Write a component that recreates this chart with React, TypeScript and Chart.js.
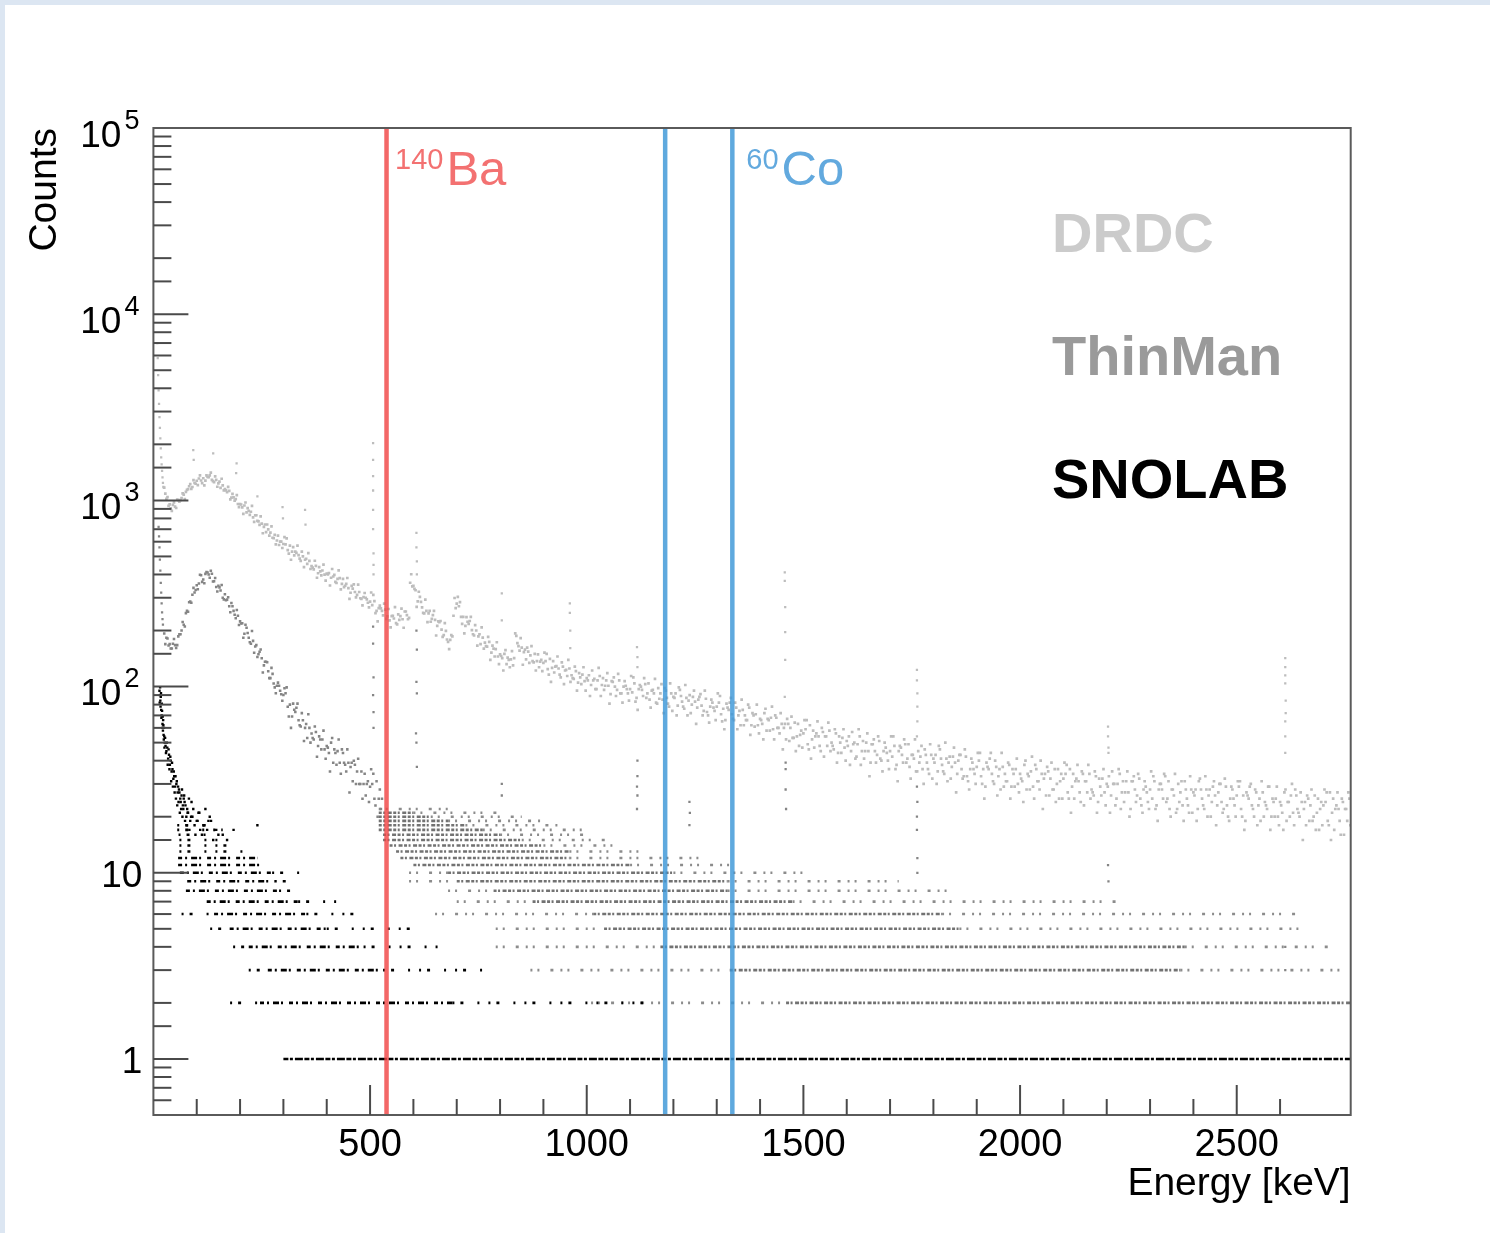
import { useEffect, useRef } from "react";
import { Chart, registerables } from "chart.js";

Chart.register(...registerables);

// ---------------- data ----------------
const energyRangeKeV = [0, 2763];
const countRange = [0.5, 100000];

const xLabelValues = [500, 1000, 1500, 2000, 2500];
const yLabelValues = [1, 10, 100, 1000, 10000, 100000];
const yLabelBase = ["1", "10", "10", "10", "10", "10"];
const yLabelExponent = ["", "", "2", "3", "4", "5"];

const seriesNames = ["DRDC", "ThinMan", "SNOLAB"];

const isotopeLineEnergies = [538, 1181, 1336];
const isotopeMassNumbers = ["140", "60"];
const isotopeSymbols = ["Ba", "Co"];
const isotopeLabelLine = [0, 2];

const binWidthKeV = 5;

// DRDC spectrum, bins every 5 keV starting at 25 keV
const drdcFirstBinKeV = 25;
const drdcCounts = [
  1170, 1020, 935, 905, 945, 925, 1010, 985, 1030, 1075, 1110, 1150, 1225, 1180, 1240, 1275,
  1311, 1279, 1315, 1278, 1336, 1362, 1290, 1254, 1290, 1235, 1166, 1204, 1150, 1107, 1125, 1035, 1038, 1016, 956, 954,
  917, 939, 862, 878, 869, 810, 832, 776, 739, 750, 720, 675, 698, 671, 630, 653, 609, 576, 601, 583,
  581, 541, 571, 530, 507, 523, 508, 473, 500, 480, 456, 473, 444, 426, 445, 406, 416, 420, 399, 404,
  407, 384, 390, 365, 379, 382, 356, 342, 356, 338, 319, 336, 322, 311, 322, 296, 302, 300, 282, 286,
  274, 288, 255, 264, 263, 241, 259, 238, 227, 239, 232, 219, 244, 239, 230, 253, 242, 234, 401, 347,
  329, 287, 303, 266, 247, 255, 247, 223, 242, 228, 212, 222, 202, 189, 199, 174, 178, 186, 299, 279,
  270, 237, 237, 212, 223, 225, 201, 188, 200, 186, 169, 183, 172, 164, 174, 152, 160, 159, 145, 149,
  142, 150, 132, 139, 140, 130, 193, 171, 156, 162, 153, 140, 154, 147, 137, 150, 137, 127, 139, 134,
  137, 124, 141, 126, 119, 129, 125, 112, 128, 122, 114, 125, 115, 110, 121, 105, 112, 116, 107, 111,
  115, 102, 108, 97, 108, 114, 102, 96, 108, 101, 91, 106, 100, 96, 108, 92, 100, 101, 92, 97,
  93, 104, 87, 97, 100, 89, 103, 92, 85, 95, 92, 82, 98, 92, 85, 98, 87, 78, 92, 88,
  92, 79, 96, 83, 76, 87, 84, 72, 88, 83, 77, 88, 79, 74, 86, 70, 78, 82, 74, 78,
  82, 71, 76, 66, 77, 82, 71, 66, 77, 70, 62, 75, 70, 66, 77, 62, 70, 71, 62, 67,
  63, 72, 58, 66, 68, 59, 70, 60, 56, 63, 60, 52, 63, 60, 53, 64, 54, 48, 58, 56,
  59, 49, 62, 52, 47, 56, 54, 45, 57, 54, 48, 58, 50, 46, 56, 44, 50, 53, 47, 51,
  54, 45, 49, 41, 49, 54, 45, 41, 50, 45, 39, 49, 45, 43, 51, 40, 45, 47, 40, 45,
  42, 48, 38, 45, 47, 39, 49, 41, 37, 43, 41, 35, 45, 42, 36, 46, 39, 34, 43, 41,
  43, 35, 46, 38, 34, 41, 39, 32, 42, 39, 34, 43, 36, 33, 42, 31, 36, 39, 34, 37,
  40, 33, 36, 29, 37, 41, 34, 30, 37, 33, 28, 37, 34, 31, 38, 29, 34, 36, 30, 34,
  31, 38, 28, 33, 35, 29, 38, 31, 28, 34, 32, 26, 35, 32, 28, 36, 30, 25, 34, 32,
  34, 27, 36, 29, 25, 32, 31, 24, 34, 31, 27, 34, 28, 26, 33, 24, 29, 32, 27, 30,
  33, 26, 30, 23, 30, 34, 27, 24, 31, 27, 22, 31, 28, 26, 32, 23, 28, 29, 24, 28,
  25, 31, 23, 28, 30, 25, 33, 25, 22, 28, 26, 21, 30, 27, 23, 31, 25, 21, 28, 27,
  28, 22, 32, 25, 22, 28, 26, 20, 29, 26, 23, 30, 24, 22, 29, 20, 25, 28, 23, 26,
  29, 22, 26, 19, 26, 29, 23, 20, 27, 23, 19, 27, 24, 22, 29, 20, 24, 25, 20, 24,
  21, 27, 19, 24, 26, 21, 28, 22, 20, 24, 22, 18, 25, 23, 19, 26, 21, 17, 24, 23,
  24, 19, 27, 21, 17, 23, 22, 16, 24, 22, 19, 25,
];
// DRDC, the bins in between (every 5 keV starting at 27.5 keV)
const drdcMidFirstBinKeV = 27.5;
const drdcMidCounts = [
  1088, 1042, 951, 878, 975, 910, 1004, 1004, 1090, 1015, 1140, 1191, 1154, 1286, 1228, 1209,
  1362, 1238, 1205, 1362, 1331, 1410, 1269, 1347, 1184, 1260, 1307, 1133, 1132, 1183, 1012, 1085, 997, 1068, 920, 950,
  846, 974, 908, 835, 935, 767, 832, 772, 821, 666, 742, 742, 646, 725, 626, 580, 646, 600, 555, 635,
  625, 518, 480, 561, 531, 571, 487, 531, 438, 486, 521, 428, 435, 474, 384, 438, 396, 452, 371, 400,
  349, 428, 398, 360, 421, 333, 379, 348, 383, 296, 347, 354, 301, 353, 298, 273, 318, 294, 266, 320,
  311, 248, 224, 272, 255, 279, 231, 261, 208, 240, 267, 216, 228, 262, 207, 253, 230, 361, 345, 335,
  268, 323, 285, 249, 293, 222, 255, 231, 255, 188, 224, 225, 185, 219, 179, 159, 189, 240, 264, 303,
  284, 217, 193, 236, 217, 237, 191, 214, 166, 191, 208, 160, 165, 185, 139, 166, 145, 173, 132, 146,
  122, 157, 143, 127, 155, 142, 187, 165, 182, 131, 158, 162, 134, 165, 135, 122, 149, 136, 121, 152,
  150, 116, 106, 137, 128, 145, 116, 135, 103, 123, 139, 106, 111, 128, 95, 118, 103, 127, 95, 108,
  89, 122, 110, 97, 126, 89, 111, 101, 118, 81, 107, 112, 89, 117, 92, 82, 107, 97, 84, 114,
  112, 83, 75, 102, 96, 111, 87, 104, 77, 96, 110, 81, 86, 103, 72, 95, 81, 104, 74, 87,
  70, 99, 89, 78, 102, 70, 90, 80, 95, 63, 85, 91, 70, 95, 73, 64, 85, 77, 66, 92,
  89, 65, 59, 81, 75, 87, 67, 82, 59, 74, 85, 62, 66, 80, 55, 72, 61, 80, 56, 66,
  52, 76, 67, 58, 78, 52, 68, 60, 72, 46, 63, 67, 51, 69, 53, 45, 63, 55, 47, 66,
  66, 46, 41, 58, 54, 65, 48, 60, 42, 54, 64, 45, 48, 59, 39, 54, 44, 59, 40, 48,
  38, 57, 50, 42, 59, 38, 51, 45, 56, 33, 49, 52, 39, 54, 41, 35, 50, 44, 36, 54,
  54, 36, 31, 48, 43, 52, 39, 49, 32, 43, 52, 35, 39, 48, 30, 43, 36, 49, 32, 39,
  30, 48, 41, 35, 50, 31, 42, 37, 47, 27, 40, 43, 32, 46, 33, 28, 41, 36, 30, 44,
  44, 30, 25, 39, 36, 44, 31, 40, 26, 36, 44, 29, 31, 39, 25, 36, 29, 41, 27, 32,
  24, 40, 34, 28, 42, 25, 36, 31, 40, 22, 34, 37, 26, 39, 28, 24, 36, 31, 25, 39,
  38, 25, 21, 34, 31, 38, 27, 35, 23, 31, 38, 25, 27, 35, 21, 32, 26, 36, 23, 29,
  21, 35, 30, 25, 36, 22, 31, 27, 35, 20, 31, 33, 24, 34, 25, 21, 31, 27, 22, 35,
  33, 22, 19, 30, 28, 34, 24, 31, 20, 28, 34, 22, 24, 31, 19, 28, 23, 33, 21, 26,
  19, 31, 28, 23, 33, 20, 28, 24, 31, 18, 27, 30, 21, 32, 23, 19, 29, 25, 20, 31,
  31, 20, 17, 27, 25, 30, 22, 28, 18, 25, 31, 20, 23, 29, 17, 25, 20, 29, 18, 23,
  17, 28, 24, 20, 30, 18, 26, 21, 27, 15, 24, 26, 19, 28, 20, 17, 25, 22, 18, 28,
  27, 18, 15, 25, 22, 27, 19, 25, 16, 22, 27, 18,
];
// DRDC threshold bins and gamma-line columns
const drdcPeakEnergy = [
  9, 10, 11, 12, 13, 14, 15, 16, 17, 18, 19, 20, 21, 22, 23,
  92, 93, 138, 192, 191, 240, 298, 299, 350, 351,
  507, 507, 507, 507, 507, 507, 508, 508, 508,
  607, 607, 608, 608, 804, 804, 961, 961, 962, 962, 1116, 1117, 1117,
  1457, 1457, 1458, 1458, 1458, 1457, 1762, 1762, 1763, 1763, 1763, 1762,
  2203, 2203, 2204, 2204, 2612, 2612, 2612, 2612, 2613, 2613, 2612, 2612, 2612,
];
const drdcPeakCounts = [
  7000, 5800, 4700, 3900, 3300, 2800, 2450, 2150, 1900, 1700, 1560, 1440, 1330, 1240, 1180,
  1860, 1650, 1790, 1580, 1400, 1050, 920, 800, 890, 740,
  2030, 1650, 1350, 1130, 890, 700, 520, 450, 400,
  670, 560, 470, 400, 317, 227, 280, 249, 200, 161, 163, 144, 127,
  410, 370, 267, 196, 139, 88, 123, 108, 92, 78, 65, 54,
  61, 54, 47, 44, 142, 127, 115, 104, 84, 72, 65, 54, 44,
];

// ThinMan spectrum, bins every 5 keV starting at 25 keV
const thinmanFirstBinKeV = 25;
const thinmanCounts = [
  193, 183, 166, 160, 170, 167, 167, 191, 200, 215, 248, 252, 286, 311, 320, 350,
  358, 396, 376, 403, 410, 384, 404, 368, 343, 348, 328, 300, 313, 293, 270, 281, 255, 233, 240, 224,
  219, 192, 207, 183, 170, 176, 164, 144, 154, 142, 130, 136, 121, 111, 117, 99, 101, 101, 91, 90,
  92, 78, 80, 69, 75, 77, 66, 61, 66, 60, 53, 60, 56, 52, 57, 48, 52, 52, 46, 48,
  44, 50, 39, 44, 45, 39, 46, 39, 35, 39, 37, 31, 38, 35, 30, 35, 30, 26, 31, 29,
  30, 25, 31, 25, 22,
];
// ThinMan, the bins in between (starting at 27.5 keV)
const thinmanMidFirstBinKeV = 27.5;
const thinmanMidCounts = [
  169, 181, 169, 160, 180, 161, 186, 191, 222, 210, 255, 284, 282, 339, 330, 333,
  399, 365, 359, 412, 400, 419, 367, 383, 324, 341, 351, 294, 291, 302, 251, 270, 243, 258, 214, 218,
  183, 215, 194, 173, 199, 152, 167, 149, 158, 119, 136, 135, 111, 126, 104, 92, 105, 95, 84, 98,
  99, 69, 60, 81, 73, 81, 62, 72, 51, 63, 71, 50, 53, 61, 42, 54, 46, 58, 41, 47,
  35, 53, 46, 38, 52, 34, 44, 38, 46, 27, 39, 40, 30, 41, 30, 25, 34, 30, 24, 36,
  34, 23, 20, 28, 25,
];
const thinmanPeakEnergy = [
  12, 13, 14, 15, 16, 17, 18, 19, 20, 21, 22,
  507, 507, 508, 507, 508, 508, 607, 608, 607, 608, 606, 607, 608, 804, 804,
  1117, 1117, 1116, 1117, 1116, 1237, 1238, 1237, 1459, 1459, 1459, 1460,
  1762, 1763, 1762, 1762, 1763, 1763, 2203, 2204, 2612, 2612,
];
const thinmanPeakCounts = [
  720, 640, 560, 480, 420, 360, 320, 280, 250, 230, 215,
  210, 170, 112, 90, 73, 60, 200, 158, 106, 92, 56, 50, 37, 30, 26,
  40, 33, 29, 26, 22, 24, 21, 18, 39, 36, 28, 22,
  29, 24, 20, 17, 12, 10, 11, 9, 4, 3,
];
// integer-count rows of ThinMan above ~520 keV: [counts, from keV, to keV]
const thinmanRowsDense = [
  [2, 1460, 2763], [3, 1330, 2370], [4, 1170, 2380], [5, 1040, 1860], [6, 1015, 1820],
  [7, 875, 1475], [8, 785, 1325], [9, 700, 1325], [10, 680, 1200], [11, 600, 1100],
  [12, 570, 960], [13, 560, 960], [14, 545, 900], [15, 530, 850], [16, 530, 800],
  [17, 520, 760], [18, 520, 720], [19, 520, 680], [20, 520, 640], [21, 520, 600],
];
const thinmanRowsSparse = [
  [2, 1010, 1460], [3, 870, 1330], [3, 2370, 2763], [4, 790, 1170], [4, 2380, 2715],
  [5, 790, 1040], [5, 1860, 2650], [6, 650, 1015], [6, 1820, 2650], [7, 700, 875],
  [7, 1475, 2230], [8, 680, 785], [8, 1325, 1840], [9, 590, 700], [9, 1325, 1720],
  [10, 590, 680], [10, 1200, 1515], [11, 1100, 1330], [12, 960, 1260], [13, 960, 1130],
  [14, 900, 1080], [15, 850, 1050], [16, 800, 1000], [17, 760, 1000], [18, 720, 940],
  [19, 680, 900], [20, 640, 850], [21, 600, 800], [22, 520, 700],
];

// SNOLAB low-energy bins
const snolabEnergy = [
  14, 15, 16, 17, 18, 19, 20, 21, 22, 23, 24, 25, 26, 28, 30, 32, 34, 36, 38, 40, 42, 44, 46, 48,
  50, 53, 56, 58, 59, 62, 64, 65, 68, 70, 72, 76, 78, 80, 85, 88, 90, 95, 100, 104, 108, 116, 120,
  124, 130, 133, 145, 160, 185, 240,
  14.5, 15.5, 16.5, 17.5, 18.5, 19.5, 20.5, 21.5, 22.5, 23.5, 24.5, 25.5, 27, 29, 31, 33, 35, 37,
  39, 41, 43, 45, 47, 49, 51, 52, 54, 55, 57, 60, 61, 63, 66, 67, 69, 71, 73, 74, 77, 79, 82, 83,
  87, 92, 97, 102, 106, 112, 118, 127, 138, 150, 170,
];
const snolabCounts = [
  95, 90, 84, 88, 75, 70, 74, 63, 58, 62, 52, 54, 50, 48, 45, 47, 41, 43, 38, 40, 35, 36, 32, 33,
  29, 30, 27, 24, 28, 25, 22, 26, 23, 25, 24, 20, 22, 21, 19, 24, 20, 18, 19, 21, 17, 18, 22,
  17, 20, 19, 17, 16, 17, 18,
  82, 99, 78, 92, 68, 81, 60, 69, 66, 55, 60, 47, 53, 44, 50, 38, 46, 36,
  42, 31, 39, 29, 35, 27, 33, 25, 31, 23, 29, 27, 21, 24, 28, 20, 22, 26, 19, 23, 18, 21, 25, 17,
  20, 22, 16, 19, 21, 16, 18, 19, 15, 16, 15,
];
// integer-count rows of SNOLAB: [counts, from keV, to keV]
const snolabUnitRow = [[1, 300, 2763]];
const snolabRowsDense = [
  [2, 246, 690], [3, 264, 530], [4, 220, 485], [5, 176, 400],
  [6, 140, 353], [7, 123, 334], [8, 75, 290], [9, 78, 280], [10, 61, 274],
  [11, 57, 255], [12, 57, 240],
];
const snolabRowsSparse = [
  [2, 177, 246], [2, 690, 1130], [3, 220, 264], [3, 530, 768], [4, 184, 220], [4, 485, 662],
  [5, 131, 176], [5, 400, 608], [6, 65, 140], [6, 353, 485], [7, 334, 424], [8, 290, 344],
  [9, 280, 309], [10, 274, 344], [13, 60, 225], [14, 60, 200], [15, 60, 150], [16, 58, 130],
  [17, 55, 160], [18, 55, 120],
];

// ---------------- helpers ----------------
const FONT = '"Liberation Sans", Arial, Helvetica, sans-serif';

const binPoints = (first: number, counts: number[]) =>
  counts.map((c, i) => ({ x: first + i * binWidthKeV, y: c }));
const pairPoints = (es: number[], cs: number[]) => es.map((e, i) => ({ x: e, y: cs[i] }));
const rowsToLine = (rows: number[][]) => {
  const pts: { x: number; y: number | null }[] = [];
  for (const [count, from, to] of rows) {
    pts.push({ x: from, y: count }, { x: to, y: count }, { x: to, y: null });
  }
  return pts;
};

const pointSet = (label: string, data: any[], color: string, radius: number, order: number) => ({
  label,
  data,
  showLine: false,
  pointStyle: "rect",
  pointRadius: radius,
  pointHoverRadius: 0,
  pointBorderWidth: 0,
  backgroundColor: color,
  borderColor: color,
  order,
});
const rowSet = (label: string, rows: number[][], color: string, width: number, dash: number[], order: number) => ({
  label,
  data: rowsToLine(rows),
  showLine: true,
  spanGaps: false,
  pointRadius: 0,
  pointHoverRadius: 0,
  borderColor: color,
  backgroundColor: color,
  borderWidth: width,
  borderDash: dash,
  borderCapStyle: "butt",
  fill: false,
  order,
});

const RED_LINE = "rgba(240,70,70,0.82)";
const BLUE_LINE = "rgba(60,150,215,0.82)";
const lineColors = [RED_LINE, BLUE_LINE, BLUE_LINE];
const labelColors = ["#f37171", "#62a9de"];
const nameColors = ["#cbcbcb", "#9a9a9a", "#000000"];

const rootDecor = {
  id: "rootDecor",
  afterDatasetsDraw(chart: any) {
    const { ctx, chartArea: a, scales } = chart;
    const xs = scales.x;
    const ys = scales.y;
    ctx.save();

    // isotope lines
    isotopeLineEnergies.forEach((e, i) => {
      const px = xs.getPixelForValue(e);
      ctx.strokeStyle = lineColors[i];
      ctx.lineWidth = 4.5;
      ctx.beginPath();
      ctx.moveTo(px, a.top);
      ctx.lineTo(px, a.bottom);
      ctx.stroke();
    });

    // isotope labels
    const labelOffsets = [8.5, 14];
    isotopeLabelLine.forEach((li, i) => {
      const px = xs.getPixelForValue(isotopeLineEnergies[li]);
      ctx.fillStyle = labelColors[i];
      ctx.textAlign = "left";
      ctx.textBaseline = "alphabetic";
      ctx.font = `29px ${FONT}`;
      const sx = px + labelOffsets[i];
      ctx.fillText(isotopeMassNumbers[i], sx, a.top + 41);
      const w = ctx.measureText(isotopeMassNumbers[i]).width;
      ctx.font = `49px ${FONT}`;
      ctx.fillText(isotopeSymbols[i], sx + w + 3, a.top + 57);
    });

    // frame
    ctx.strokeStyle = "#5a5a5a";
    ctx.lineWidth = 2;
    ctx.strokeRect(a.left, a.top, a.right - a.left, a.bottom - a.top);

    // x ticks (inside, ROOT style)
    ctx.strokeStyle = "#4a4a4a";
    ctx.lineWidth = 2;
    for (const t of xs.ticks) {
      const v = Math.round(t.value);
      if (v <= xs.min || v >= xs.max || v % 100 !== 0) continue;
      const px = xs.getPixelForValue(v);
      const len = v % 500 === 0 ? 30 : 16;
      ctx.beginPath();
      ctx.moveTo(px, a.bottom);
      ctx.lineTo(px, a.bottom - len);
      ctx.stroke();
    }
    // y ticks
    for (const t of ys.ticks) {
      const v = t.value;
      if (v <= ys.min * 1.0001 || v >= ys.max * 0.9999) continue;
      const lg = Math.log10(v);
      const major = Math.abs(lg - Math.round(lg)) < 1e-6;
      const py = ys.getPixelForValue(v);
      ctx.beginPath();
      ctx.moveTo(a.left, py);
      ctx.lineTo(a.left + (major ? 35 : 18), py);
      ctx.stroke();
    }

    // x labels
    ctx.fillStyle = "#000";
    ctx.font = `38px ${FONT}`;
    ctx.textAlign = "center";
    ctx.textBaseline = "alphabetic";
    xLabelValues.forEach((v) => {
      ctx.fillText(String(v), xs.getPixelForValue(v), a.bottom + 41);
    });

    // y labels
    yLabelValues.forEach((v, i) => {
      const py = ys.getPixelForValue(v);
      if (yLabelExponent[i]) {
        ctx.font = `37px ${FONT}`;
        ctx.textAlign = "right";
        ctx.fillText(yLabelBase[i], a.left - 32, py + 18.5);
        ctx.font = `27px ${FONT}`;
        ctx.textAlign = "left";
        ctx.fillText(yLabelExponent[i], a.left - 29, py + 0.5);
      } else {
        ctx.font = `37px ${FONT}`;
        ctx.textAlign = "right";
        ctx.fillText(yLabelBase[i], a.left - 11, py + 14);
      }
    });

    // axis titles
    ctx.font = `39px ${FONT}`;
    ctx.textAlign = "right";
    ctx.fillText("Energy [keV]", a.right, a.bottom + 80);
    ctx.save();
    ctx.translate(56, a.top);
    ctx.rotate(-Math.PI / 2);
    ctx.textAlign = "right";
    ctx.fillText("Counts", 0, 0);
    ctx.restore();

    // series names
    ctx.font = `bold 56px ${FONT}`;
    ctx.textAlign = "left";
    const nameBaselines = [252, 375, 498];
    seriesNames.forEach((n, i) => {
      ctx.fillStyle = nameColors[i];
      ctx.fillText(n, 1052, nameBaselines[i]);
    });

    ctx.restore();
  },
};

export default function App() {
  const ref = useRef<HTMLCanvasElement | null>(null);

  useEffect(() => {
    if (!ref.current) return;
    const DRDC = "#bdbdbd";
    const THIN = "#858585";
    const SNO = "#000000";
    const chart = new Chart(ref.current, {
      type: "scatter",
      data: {
        datasets: [
          pointSet("SNOLAB", pairPoints(snolabEnergy, snolabCounts), SNO, 1.7, 1),
          rowSet("SNOLAB 1-count row", snolabUnitRow, SNO, 2.6, [5, 1.5, 3, 2, 8, 1.5], 1),
          rowSet("SNOLAB rows", snolabRowsDense, SNO, 2.6, [4, 3, 2, 4, 6, 2, 2, 6], 1),
          rowSet("SNOLAB sparse", snolabRowsSparse, SNO, 2.6, [2, 6, 3, 14, 2, 9], 1),
          pointSet("ThinMan", binPoints(thinmanFirstBinKeV, thinmanCounts), THIN, 1.8, 2),
          pointSet("ThinMan mid", binPoints(thinmanMidFirstBinKeV, thinmanMidCounts), THIN, 1.8, 2),
          pointSet("ThinMan peaks", pairPoints(thinmanPeakEnergy, thinmanPeakCounts), THIN, 1.6, 2),
          rowSet("ThinMan rows", thinmanRowsDense, "#727272", 2.6, [3, 1.5, 2, 2.5, 4, 1.5], 2),
          rowSet("ThinMan sparse", thinmanRowsSparse, "#8c8c8c", 2.6, [2, 5, 2, 11, 3, 7], 2),
          pointSet("DRDC", binPoints(drdcFirstBinKeV, drdcCounts), DRDC, 1.9, 3),
          pointSet("DRDC mid", binPoints(drdcMidFirstBinKeV, drdcMidCounts), DRDC, 1.9, 3),
          pointSet("DRDC peaks", pairPoints(drdcPeakEnergy, drdcPeakCounts), DRDC, 1.6, 3),
        ] as any,
      },
      options: {
        animation: false,
        responsive: false,
        devicePixelRatio: 1,
        events: [],
        layout: { padding: { left: 153.4, right: 139.3, top: 128, bottom: 118 } },
        plugins: { legend: { display: false }, tooltip: { enabled: false } },
        scales: {
          x: {
            type: "linear",
            min: energyRangeKeV[0],
            max: energyRangeKeV[1],
            ticks: { display: false, stepSize: 100 },
            grid: { display: false },
            border: { display: false },
            afterFit: (s: any) => {
              s.height = 0;
            },
          },
          y: {
            type: "logarithmic",
            min: countRange[0],
            max: countRange[1],
            ticks: { display: false },
            grid: { display: false },
            border: { display: false },
            afterFit: (s: any) => {
              s.width = 0;
            },
          },
        },
      } as any,
      plugins: [rootDecor],
    });
    return () => chart.destroy();
  }, []);

  return (
    <div
      style={{
        position: "fixed",
        left: 0,
        top: 0,
        width: 1490,
        height: 1233,
        background: "#dce6f2",
        overflow: "hidden",
      }}
    >
      <div style={{ position: "absolute", left: 5, top: 5, right: 0, bottom: 0, background: "#ffffff" }} />
      <canvas
        ref={ref}
        width={1490}
        height={1233}
        style={{ position: "absolute", left: 0, top: 0, width: 1490, height: 1233 }}
      />
    </div>
  );
}
